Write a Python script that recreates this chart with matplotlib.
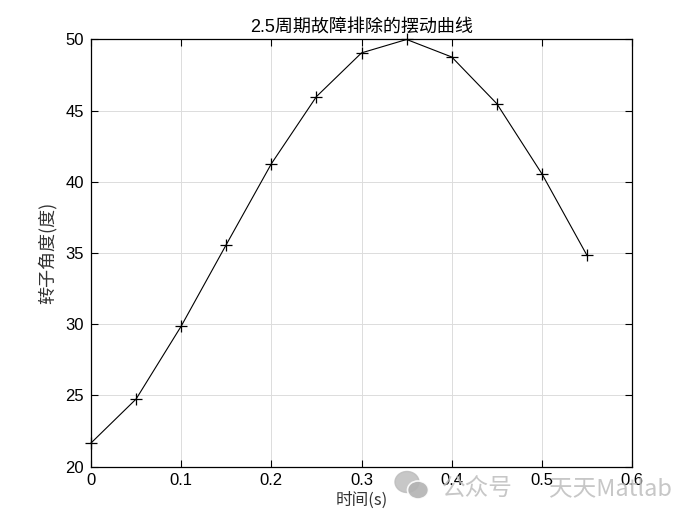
import matplotlib.pyplot as plt
from matplotlib.patches import Ellipse

plt.rcParams['font.family'] = ['Liberation Sans', 'Noto Sans CJK SC', 'DejaVu Sans']

# 时间 (s) 与转子角度 (度)
t = [0.0, 0.05, 0.10, 0.15, 0.20, 0.25, 0.30, 0.35, 0.40, 0.45, 0.50, 0.55]
delta = [21.65, 24.74, 29.86, 35.59, 41.27, 45.99, 49.06, 50.00, 48.77, 45.49, 40.56, 34.83]

xticks = [0, 0.1, 0.2, 0.3, 0.4, 0.5, 0.6]
xticklabels = ['0', '0.1', '0.2', '0.3', '0.4', '0.5', '0.6']
yticks = [20, 25, 30, 35, 40, 45, 50]

fig = plt.figure(figsize=(7, 5.25), dpi=100)
ax = fig.add_axes([0.13, 0.1114, 0.773, 0.8134])

ax.plot(t, delta, color='black', linewidth=0.8, marker='+', markersize=9,
        markeredgewidth=0.9, clip_on=False, zorder=3)

ax.set_xlim(0, 0.6)
ax.set_ylim(20, 50)
ax.set_xticks(xticks)
ax.set_xticklabels(xticklabels)
ax.set_yticks(yticks)
ax.grid(True, color='#dcdcdc', linewidth=0.7)
ax.set_axisbelow(True)
ax.tick_params(direction='in', top=True, right=True, length=5, width=0.8,
               labelsize=12, colors='black', pad=5)
for s in ax.spines.values():
    s.set_linewidth(0.9)

ax.set_title('2.5周期故障排除的摆动曲线', fontsize=13,
             family=['Liberation Sans', 'Noto Sans CJK SC'], pad=5)
ax.set_xlabel('时间(s)', fontsize=12, family=['Noto Sans CJK SC', 'DejaVu Sans'],
              color='#333333', labelpad=2)
ax.set_ylabel('转子角度(度)', fontsize=13, family=['Noto Sans CJK SC', 'DejaVu Sans'],
              color='#333333', labelpad=6)

# 水印
wm = dict(fontsize=17, color='#bdbdbd', va='center', ha='left', alpha=0.85,
          family=['Noto Sans CJK SC', 'DejaVu Sans'], zorder=0)
fig.text(442 / 700, 1 - 489 / 525, '公众号', **wm)
fig.text(549 / 700, 1 - 489 / 525, '天天Matlab', **wm)
fig.add_artist(Ellipse((407 / 700, 1 - 482 / 525), 24 / 700, 21 / 525,
                       transform=fig.transFigure, color='#bdbdbd', alpha=0.85, zorder=0))
fig.add_artist(Ellipse((418 / 700, 1 - 490 / 525), 21 / 700, 18 / 525,
                       transform=fig.transFigure, facecolor='#b3b3b3',
                       edgecolor='white', linewidth=1.2, alpha=0.9, zorder=0))

fig.savefig('out.png', dpi=100)
